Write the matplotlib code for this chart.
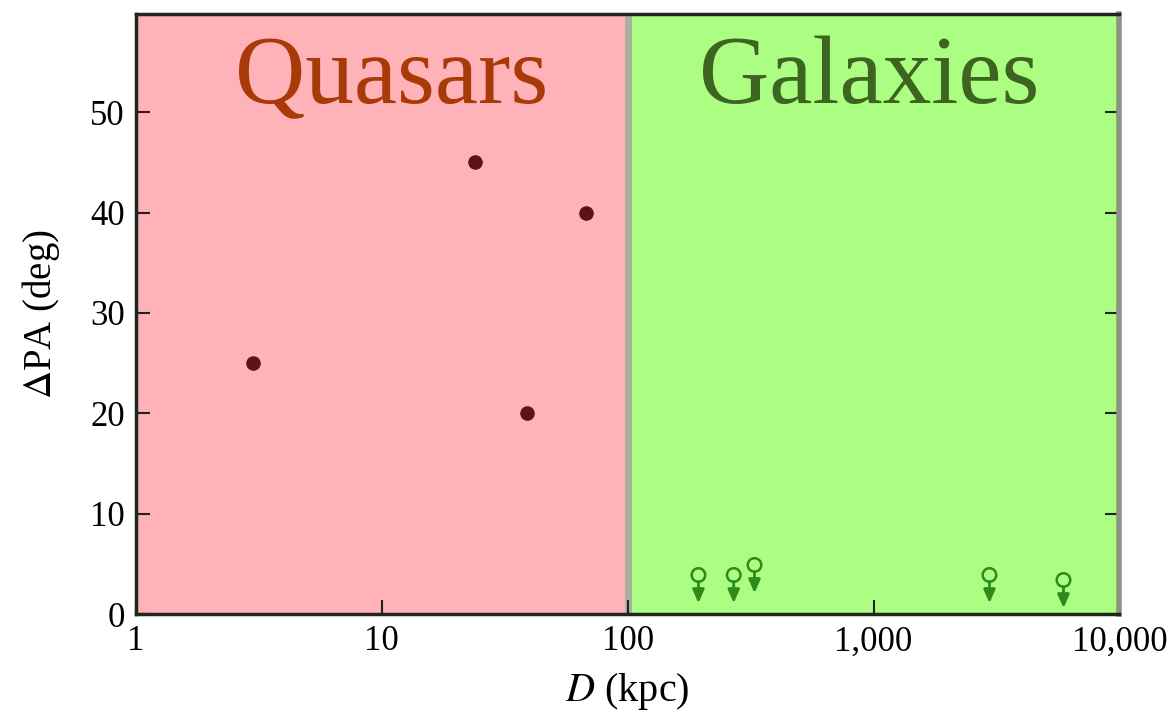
import matplotlib
matplotlib.use("Agg")
import matplotlib.pyplot as plt
from matplotlib.ticker import FixedLocator, NullLocator

# Quasar companions: separation D (kpc) and position-angle offset (deg)
quasar_d = [3.0, 24.0, 39.0, 68.0]
quasar_dpa = [25.0, 45.0, 20.0, 40.0]

# Galaxy companions: upper limits on the position-angle offset
galaxy_d = [194.0, 270.0, 328.0, 2960.0, 5920.0]
galaxy_dpa = [3.9, 3.9, 4.9, 3.9, 3.4]

x_ticks = [1, 10, 100, 1000, 10000]
x_tick_labels = ["1", "10", "100", "1,000", "10,000"]
y_ticks = [0, 10, 20, 30, 40, 50]

plt.rcParams["font.family"] = ["Liberation Serif", "DejaVu Serif"]
plt.rcParams["mathtext.fontset"] = "stix"

fig = plt.figure(figsize=(11.71, 7.2), dpi=100)
ax = fig.add_axes([0.116, 0.147, 0.840, 0.834])

ax.set_xscale("log")
ax.set_xlim(1, 10000)
ax.set_ylim(0, 59.8)

# Shaded regimes
ax.axvspan(1, 100, color="#ffb3b8", zorder=0)
ax.axvspan(100, 10000, color="#abfe82", zorder=0)
ax.axvline(100, color="#a9b09f", lw=5, zorder=1)

ax.text(11, 53.2, "Quasars", color="#a83a08", fontsize=70,
        ha="center", va="center")
ax.text(960, 53.2, "Galaxies", color="#3d6420", fontsize=70,
        ha="center", va="center")

# Quasar points
ax.scatter(quasar_d, quasar_dpa, s=90, color="#5e1216", zorder=3)

# Galaxy upper limits: hollow circle with a downward arrow
green = "#2f8a1c"
for d, v in zip(galaxy_d, galaxy_dpa):
    ax.annotate("", xy=(d, v - 2.8), xytext=(d, v - 0.65),
                arrowprops=dict(arrowstyle="-|>,head_length=0.8,head_width=0.35",
                                color=green, lw=2.0, shrinkA=0, shrinkB=0),
                zorder=3)
ax.scatter(galaxy_d, galaxy_dpa, s=95, facecolors="none",
           edgecolors=green, linewidths=1.8, zorder=4)

ax.xaxis.set_major_locator(FixedLocator(x_ticks))
ax.xaxis.set_minor_locator(NullLocator())
ax.set_xticklabels(x_tick_labels)
ax.set_yticks(y_ticks)

ax.tick_params(axis="both", which="major", direction="in", length=10,
               width=1.5, labelsize=25, color="#222222", pad=8,
               right=True, top=False)

for side in ["left", "bottom", "top"]:
    ax.spines[side].set_linewidth(2.5)
    ax.spines[side].set_color("#1f261c")
ax.spines["right"].set_linewidth(4)
ax.spines["right"].set_color("#8a9584")

ax.set_ylabel(r"$\Delta$PA (deg)", fontsize=28, labelpad=20)
ax.set_xlabel(r"$\it{D}$ (kpc)", fontsize=29, labelpad=9)

fig.savefig("out.png", dpi=100)
